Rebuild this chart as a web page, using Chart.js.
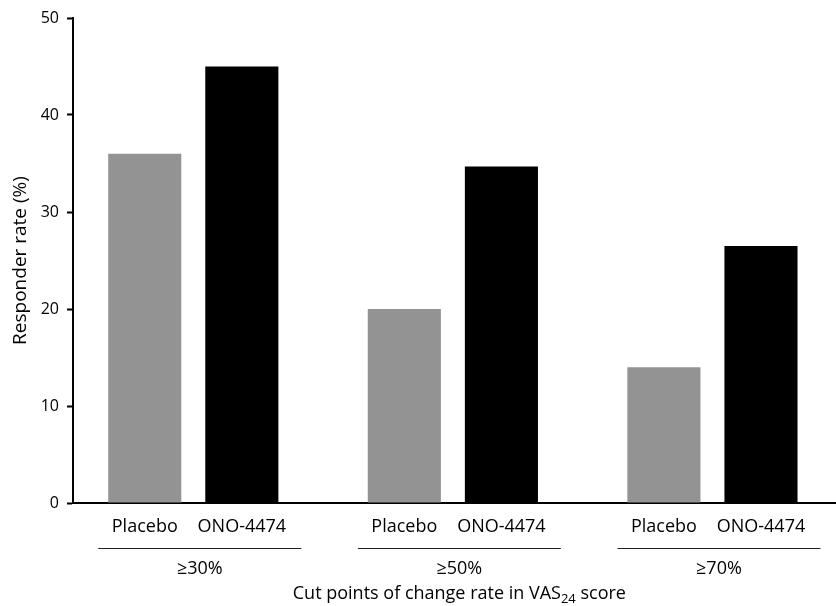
<!DOCTYPE html>
<html lang="en">
<head>
  <meta charset="UTF-8">
  <title>Responder rate</title>
  <script src="https://cdn.jsdelivr.net/npm/chart.js"></script>
  <style>
    body {
      margin: 0;
      background: #fff;
    }
    #wrap {
      width: 836px;
      height: 606px;
    }
  </style>
</head>
<body>
  <div id="wrap"><canvas id="chart"></canvas></div>

  <script>
    const cutPoints = ['≥30%', '≥50%', '≥70%'];
    const seriesNames = ['Placebo', 'ONO-4474'];
    const placebo = [36, 20, 14];
    const ono4474 = [45, 34.7, 26.5];
    const yTicks = [0, 10, 20, 30, 40, 50];

    const FONT = "'Open Sans', sans-serif";
    Chart.defaults.font.family = FONT;
    Chart.defaults.color = '#000';

    // labels under the bars, group brackets and the axis title
    const groupLabels = {
      id: 'groupLabels',
      afterDraw(chart) {
        const ctx = chart.ctx;
        const area = chart.chartArea;
        const m0 = chart.getDatasetMeta(0);
        const m1 = chart.getDatasetMeta(1);
        ctx.save();
        ctx.fillStyle = '#000';
        ctx.textAlign = 'center';
        ctx.textBaseline = 'middle';
        ctx.font = '18px ' + FONT;
        [m0, m1].forEach((meta, s) => {
          meta.data.forEach(bar => {
            ctx.fillText(seriesNames[s], bar.x, area.bottom + 24);
          });
        });
        cutPoints.forEach((label, i) => {
          const cx = (m0.data[i].x + m1.data[i].x) / 2 + 6.5;
          ctx.strokeStyle = '#222';
          ctx.lineWidth = 1;
          ctx.beginPath();
          ctx.moveTo(cx - 101.5, area.bottom + 45.5);
          ctx.lineTo(cx + 101.5, area.bottom + 45.5);
          ctx.stroke();
          ctx.fillText(label, cx, area.bottom + 66);
        });

        // x title with subscript
        const mid = (m0.data[1].x + m1.data[1].x) / 2 + 6.5;
        const y = area.bottom + 91;
        const a = 'Cut points of change rate in VAS';
        const sub = '24';
        const b = ' score';
        ctx.font = '18px ' + FONT;
        const wa = ctx.measureText(a).width;
        const wb = ctx.measureText(b).width;
        ctx.font = '13px ' + FONT;
        const ws = ctx.measureText(sub).width;
        let x = mid - (wa + ws + wb) / 2;
        ctx.textAlign = 'left';
        ctx.font = '18px ' + FONT;
        ctx.fillText(a, x, y);
        ctx.font = '13px ' + FONT;
        ctx.fillText(sub, x + wa, y + 5);
        ctx.font = '18px ' + FONT;
        ctx.fillText(b, x + wa + ws, y);
        ctx.restore();
      }
    };

    new Chart(document.getElementById('chart'), {
      type: 'bar',
      data: {
        datasets: [
          {
            label: seriesNames[0],
            data: placebo.map((v, i) => ({ x: i + 1, y: v })),
            backgroundColor: '#939393'
          },
          {
            label: seriesNames[1],
            data: ono4474.map((v, i) => ({ x: i + 1, y: v })),
            backgroundColor: '#000'
          }
        ]
      },
      options: {
        responsive: true,
        maintainAspectRatio: false,
        animation: false,
        categoryPercentage: 0.748,
        barPercentage: 0.753,
        layout: { padding: { top: 18, left: 0, right: 0, bottom: 0 } },
        plugins: {
          legend: { display: false },
          tooltip: { enabled: false }
        },
        scales: {
          x: {
            type: 'linear',
            offset: false,
            min: 0.5366,
            max: 3.476,
            afterFit: s => { s.height = 103; },
            ticks: { display: false, stepSize: 1, includeBounds: false },
            grid: { display: true, drawOnChartArea: false, drawTicks: false },
            border: { display: true, color: '#000', width: 2 }
          },
          y: {
            min: 0,
            max: 50,
            afterFit: s => { s.width = 73; },
            afterBuildTicks: s => { s.ticks = yTicks.map(v => ({ value: v })); },
            ticks: { padding: 8, font: { size: 16 } },
            grid: { drawOnChartArea: false, drawTicks: true, tickLength: 6, tickWidth: 2, tickColor: '#000' },
            border: { display: true, color: '#000', width: 2 },
            title: {
              display: true,
              text: 'Responder rate (%)',
              font: { size: 19 },
              padding: { top: 9, bottom: 0 }
            }
          }
        }
      },
      plugins: [groupLabels]
    });
  </script>
</body>
</html>
